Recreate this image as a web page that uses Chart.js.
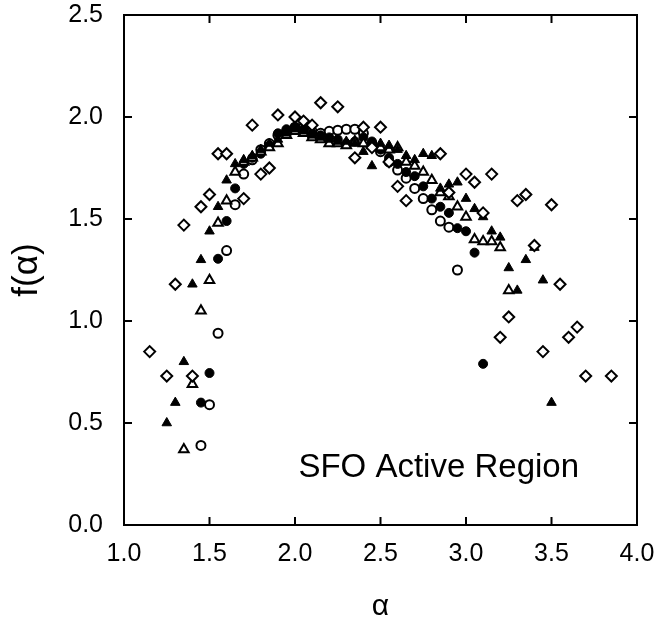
<!DOCTYPE html>
<html>
<head>
<meta charset="utf-8">
<title>SFO Active Region f(alpha)</title>
<script src="https://cdn.jsdelivr.net/npm/chart.js@4.4.1/dist/chart.umd.min.js"></script>
<style>
  html, body { margin: 0; padding: 0; background: #fff; }
  #wrap { width: 659px; height: 617px; }
</style>
</head>
<body>
<div id="wrap"><canvas id="chart" width="659" height="617"></canvas></div>
<script>
// axis ticks
const xTicks = [1.0, 1.5, 2.0, 2.5, 3.0, 3.5, 4.0];
const yTicks = [0.0, 0.5, 1.0, 1.5, 2.0, 2.5];

// [alpha, f(alpha)], one list per marker type
const openDiamonds = [
  [1.15, 0.85], [1.25, 0.73], [1.30, 1.18], [1.35, 1.47], [1.40, 0.73], [1.45, 1.56],
  [1.50, 1.62], [1.55, 1.82], [1.60, 1.82], [1.70, 1.60], [1.75, 1.96], [1.80, 1.72],
  [1.85, 1.75], [1.90, 2.01], [2.00, 2.00], [2.05, 1.98], [2.10, 1.96], [2.15, 2.07],
  [2.25, 2.05], [2.35, 1.80], [2.40, 1.95], [2.45, 1.85], [2.50, 1.95], [2.55, 1.78],
  [2.60, 1.66], [2.65, 1.59], [2.85, 1.82], [2.90, 1.63], [3.00, 1.72], [3.05, 1.68],
  [3.10, 1.53], [3.15, 1.72], [3.20, 0.92], [3.25, 1.02], [3.30, 1.59], [3.35, 1.62],
  [3.40, 1.37], [3.45, 0.85], [3.50, 1.57], [3.55, 1.18], [3.60, 0.92], [3.65, 0.97],
  [3.70, 0.73], [3.85, 0.73]
];
const filledTriangles = [
  [1.25, 0.50], [1.30, 0.60], [1.35, 0.80], [1.40, 1.18], [1.45, 1.30], [1.50, 1.44],
  [1.55, 1.56], [1.60, 1.69], [1.65, 1.77], [1.70, 1.79], [1.75, 1.81], [1.80, 1.84],
  [1.85, 1.87], [1.90, 1.89], [1.95, 1.92], [2.00, 1.94], [2.05, 1.93], [2.10, 1.91],
  [2.15, 1.90], [2.20, 1.89], [2.25, 1.88], [2.30, 1.88], [2.35, 1.87], [2.40, 1.83],
  [2.45, 1.76], [2.50, 1.87], [2.55, 1.86], [2.60, 1.84], [2.65, 1.81], [2.70, 1.79],
  [2.75, 1.82], [2.80, 1.81], [2.85, 1.65], [2.90, 1.67], [2.95, 1.68], [3.00, 1.60],
  [3.05, 1.55], [3.10, 1.51], [3.15, 1.44], [3.20, 1.41], [3.25, 1.26], [3.30, 1.15],
  [3.35, 1.30], [3.40, 1.36], [3.45, 1.20], [3.50, 0.60]
];
const openTriangles = [
  [1.35, 0.37], [1.40, 0.69], [1.45, 1.05], [1.50, 1.20], [1.55, 1.48], [1.60, 1.59],
  [1.65, 1.73], [1.70, 1.78], [1.75, 1.80], [1.80, 1.83], [1.85, 1.85], [1.90, 1.87],
  [1.95, 1.91], [2.00, 1.93], [2.05, 1.92], [2.10, 1.90], [2.15, 1.89], [2.20, 1.87],
  [2.25, 1.87], [2.30, 1.86], [2.35, 1.88], [2.40, 1.87], [2.45, 1.86], [2.50, 1.85],
  [2.55, 1.84], [2.60, 1.85], [2.65, 1.78], [2.70, 1.76], [2.75, 1.73], [2.80, 1.69],
  [2.85, 1.63], [2.90, 1.61], [2.95, 1.56], [3.00, 1.51], [3.05, 1.40], [3.10, 1.39],
  [3.15, 1.39], [3.20, 1.36], [3.25, 1.15]
];
const filledCircles = [
  [1.45, 0.60], [1.50, 0.745], [1.55, 1.305], [1.60, 1.49], [1.65, 1.65], [1.70, 1.77],
  [1.75, 1.80], [1.80, 1.82], [1.85, 1.86], [1.90, 1.92], [1.95, 1.94], [2.00, 1.95],
  [2.05, 1.94], [2.10, 1.92], [2.15, 1.91], [2.20, 1.90], [2.25, 1.89], [2.30, 1.87],
  [2.35, 1.88], [2.40, 1.90], [2.45, 1.88], [2.50, 1.84], [2.55, 1.80], [2.60, 1.77],
  [2.65, 1.73], [2.70, 1.71], [2.75, 1.66], [2.80, 1.60], [2.85, 1.56], [2.90, 1.53],
  [2.95, 1.455], [3.00, 1.44], [3.05, 1.335], [3.10, 0.79]
];
const openCircles = [
  [1.45, 0.39], [1.50, 0.59], [1.55, 0.94], [1.60, 1.345], [1.65, 1.57], [1.70, 1.72],
  [1.75, 1.79], [1.80, 1.84], [1.85, 1.87], [1.90, 1.91], [1.95, 1.93], [2.00, 1.95],
  [2.05, 1.95], [2.10, 1.93], [2.15, 1.92], [2.20, 1.93], [2.25, 1.935], [2.30, 1.94],
  [2.35, 1.94], [2.40, 1.92], [2.45, 1.87], [2.50, 1.83], [2.55, 1.78], [2.60, 1.74],
  [2.65, 1.70], [2.70, 1.65], [2.75, 1.60], [2.80, 1.545], [2.85, 1.49], [2.90, 1.46],
  [2.95, 1.25]
];

const annotation = { text: 'SFO Active Region', x: 2.02, y: 0.235 };

const FONT = '"Liberation Sans", Arial, Helvetica, sans-serif';

function toPoints(list) {
  return list.map(p => ({ x: p[0], y: p[1] }));
}

function series(list, style, filled, radius) {
  return {
    data: toPoints(list),
    pointStyle: style,
    pointRadius: radius,
    pointHoverRadius: radius,
    pointBorderWidth: filled ? 1 : 2,
    pointBackgroundColor: filled ? '#000' : '#fff',
    pointBorderColor: '#000',
    showLine: false
  };
}

// frame with inward ticks on all four sides, plus the label inside the plot
const frameTicks = {
  id: 'frameTicks',
  afterDraw(chart) {
    const ctx = chart.ctx;
    const a = chart.chartArea;
    const xs = chart.scales.x;
    const ys = chart.scales.y;
    const len = 8;
    ctx.save();
    ctx.strokeStyle = '#000';
    ctx.lineWidth = 2;
    ctx.strokeRect(a.left, a.top, a.right - a.left, a.bottom - a.top);
    ctx.beginPath();
    xTicks.forEach(v => {
      const px = xs.getPixelForValue(v);
      ctx.moveTo(px, a.bottom); ctx.lineTo(px, a.bottom - len);
      ctx.moveTo(px, a.top); ctx.lineTo(px, a.top + len);
    });
    yTicks.forEach(v => {
      const py = ys.getPixelForValue(v);
      ctx.moveTo(a.left, py); ctx.lineTo(a.left + len, py);
      ctx.moveTo(a.right, py); ctx.lineTo(a.right - len, py);
    });
    ctx.stroke();

    ctx.fillStyle = '#000';
    ctx.font = '33px ' + FONT;
    ctx.textBaseline = 'alphabetic';
    ctx.textAlign = 'left';
    ctx.fillText(annotation.text, xs.getPixelForValue(annotation.x), ys.getPixelForValue(annotation.y));
    ctx.restore();
  }
};

new Chart(document.getElementById('chart'), {
  type: 'scatter',
  data: {
    datasets: [
      series(openDiamonds, 'rectRot', false, 5.5),
      series(filledTriangles, 'triangle', true, 5.5),
      series(openTriangles, 'triangle', false, 5.5),
      series(filledCircles, 'circle', true, 4.5),
      series(openCircles, 'circle', false, 4.5)
    ]
  },
  options: {
    responsive: false,
    animation: false,
    layout: { padding: { top: 15, right: 22, left: 0, bottom: 0 } },
    plugins: {
      legend: { display: false },
      tooltip: { enabled: false }
    },
    scales: {
      x: {
        type: 'linear',
        min: 1.0,
        max: 4.0,
        afterFit(scale) {
          scale.height = 92;
          scale.paddingLeft = 0;
          scale.paddingRight = 0;
        },
        afterBuildTicks(scale) { scale.ticks = xTicks.map(v => ({ value: v })); },
        grid: { display: false, drawTicks: false },
        border: { display: false },
        ticks: {
          padding: 14,
          color: '#000',
          font: { family: FONT, size: 25 },
          callback: v => Number(v).toFixed(1)
        },
        title: {
          display: true,
          text: 'α',
          color: '#000',
          font: { family: FONT, size: 30, lineHeight: 0.67 },
          padding: { top: 0, bottom: 0 }
        }
      },
      y: {
        type: 'linear',
        min: 0.0,
        max: 2.5,
        afterFit(scale) {
          scale.width = 124;
          scale.paddingTop = 0;
          scale.paddingBottom = 0;
        },
        afterBuildTicks(scale) { scale.ticks = yTicks.map(v => ({ value: v })); },
        grid: { display: false, drawTicks: false },
        border: { display: false },
        ticks: {
          padding: 21,
          color: '#000',
          font: { family: FONT, size: 25 },
          callback: v => Number(v).toFixed(1)
        },
        title: {
          display: true,
          text: 'f(α)',
          color: '#000',
          font: { family: FONT, size: 35, lineHeight: 1 },
          padding: { top: 10, bottom: 0 }
        }
      }
    }
  },
  plugins: [frameTicks]
});
</script>
</body>
</html>
